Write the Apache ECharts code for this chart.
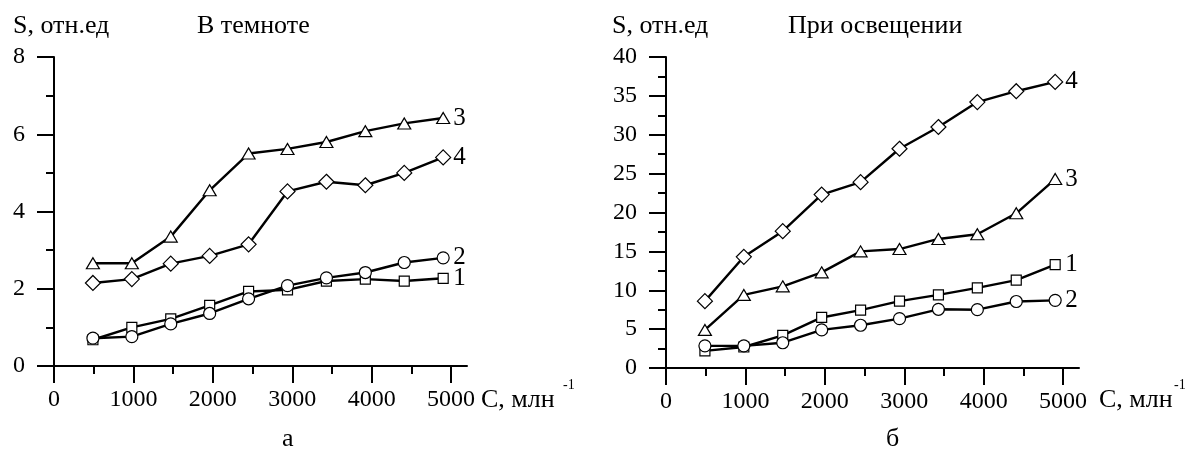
<!DOCTYPE html>
<html>
<head>
<meta charset="utf-8">
<script src="https://cdn.jsdelivr.net/npm/echarts@6/dist/echarts.min.js"></script>
<style>
    html, body { margin: 0; padding: 0; background: #fff; }
    #chart { width: 1186px; height: 454px; }
</style>
</head>
<body>
<div id="chart"></div>
<script>
    var concentration = [490, 980, 1470, 1960, 2450, 2940, 3430, 3920, 4410, 4900];

    // а - в темноте
    var dark1 = [0.68, 1.0, 1.22, 1.57, 1.93, 1.97, 2.2, 2.25, 2.2, 2.27];
    var dark2 = [0.72, 0.76, 1.09, 1.36, 1.74, 2.08, 2.28, 2.42, 2.68, 2.8];
    var dark3 = [2.66, 2.66, 3.35, 4.55, 5.5, 5.62, 5.8, 6.08, 6.28, 6.42];
    var dark4 = [2.15, 2.25, 2.65, 2.85, 3.15, 4.52, 4.77, 4.68, 5.0, 5.4];

    // б - при освещении
    var light1 = [2.2, 2.7, 4.2, 6.5, 7.45, 8.6, 9.4, 10.3, 11.3, 13.3];
    var light2 = [2.85, 2.85, 3.25, 4.9, 5.5, 6.35, 7.55, 7.5, 8.55, 8.7];
    var light3 = [4.9, 9.4, 10.5, 12.3, 15.0, 15.3, 16.6, 17.2, 19.9, 24.3];
    var light4 = [8.6, 14.3, 17.6, 22.3, 23.9, 28.2, 31.0, 34.2, 35.6, 36.8];

    var xTicks = [0, 1000, 2000, 3000, 4000, 5000];
    var xMinorTicks = [500, 1500, 2500, 3500, 4500];

    var FONT = '"Liberation Serif", "Times New Roman", serif';

    function pairs(ys) {
        return concentration.map(function (c, i) { return [c, ys[i]]; });
    }

    function xMain(grid) {
        return {
            type: 'value', gridIndex: grid, min: 0, max: 5200, position: 'bottom',
            axisLine: { lineStyle: { color: '#000', width: 2 } },
            axisTick: { customValues: xTicks, length: 17, lineStyle: { color: '#000', width: 2 } },
            axisLabel: {
                customValues: xTicks, margin: 22, color: '#000', fontFamily: FONT, fontSize: 24,
                formatter: function (v) { return String(v); }
            },
            splitLine: { show: false }
        };
    }
    // отдельная ось только для коротких делений через 500
    function xMinor(grid) {
        return {
            type: 'value', gridIndex: grid, min: 0, max: 5200, position: 'bottom',
            axisLine: { show: false },
            axisTick: { customValues: xMinorTicks, length: 8, lineStyle: { color: '#000', width: 2 } },
            axisLabel: { show: false },
            splitLine: { show: false }
        };
    }
    function yAxis(grid, max, step) {
        return {
            type: 'value', gridIndex: grid, min: 0, max: max, interval: step,
            axisLine: { show: true, lineStyle: { color: '#000', width: 2 } },
            axisTick: { show: true, length: 17, lineStyle: { color: '#000', width: 2 } },
            minorTick: { show: true, splitNumber: 2, length: 8, lineStyle: { color: '#000', width: 2 } },
            axisLabel: { margin: 29, color: '#000', fontFamily: FONT, fontSize: 24 },
            splitLine: { show: false }
        };
    }
    function line(xi, yi, ys, symbol, size, label) {
        return {
            type: 'line', xAxisIndex: xi, yAxisIndex: yi, data: pairs(ys),
            symbol: symbol, symbolSize: size, showAllSymbol: true,
            lineStyle: { color: '#000', width: 2.4 },
            itemStyle: { color: '#fff', borderColor: '#000', borderWidth: 1.2 },
            endLabel: { show: true, formatter: label, distance: 10, color: '#000', fontFamily: FONT, fontSize: 25 },
            emphasis: { disabled: true }
        };
    }
    function txt(x, y, s, size) {
        return { type: 'text', left: x, top: y, style: { text: s, fill: '#000', font: (size || 26) + 'px ' + FONT } };
    }

    var myChart = echarts.init(document.getElementById('chart'));
    var option = {
        animation: false,
        backgroundColor: '#fff',
        grid: [
            { left: 54, top: 57, width: 413, height: 309 },
            { left: 666, top: 57, width: 413, height: 311 }
        ],
        xAxis: [xMain(0), xMinor(0), xMain(1), xMinor(1)],
        yAxis: [yAxis(0, 8, 2), yAxis(1, 40, 5)],
        series: [
            line(1, 0, dark1, 'rect', 10, '1'),
            line(1, 0, dark2, 'circle', 12, '2'),
            line(1, 0, dark3, 'triangle', [13, 11], '3'),
            line(1, 0, dark4, 'diamond', [15, 15], '4'),
            line(3, 1, light1, 'rect', 10, '1'),
            line(3, 1, light2, 'circle', 12, '2'),
            line(3, 1, light3, 'triangle', [13, 11], '3'),
            line(3, 1, light4, 'diamond', [15, 15], '4')
        ],
        graphic: [
            txt(13, 13, 'S, отн.ед'),
            txt(197, 13, 'В темноте'),
            txt(481, 387, 'C, млн'),
            txt(563, 378, '-1', 14),
            txt(282, 426, 'а'),
            txt(612, 13, 'S, отн.ед'),
            txt(788, 13, 'При освещении'),
            txt(1099, 387, 'C, млн'),
            txt(1174, 378, '-1', 14),
            txt(886, 426, 'б')
        ]
    };
    myChart.setOption(option);
</script>
</body>
</html>
